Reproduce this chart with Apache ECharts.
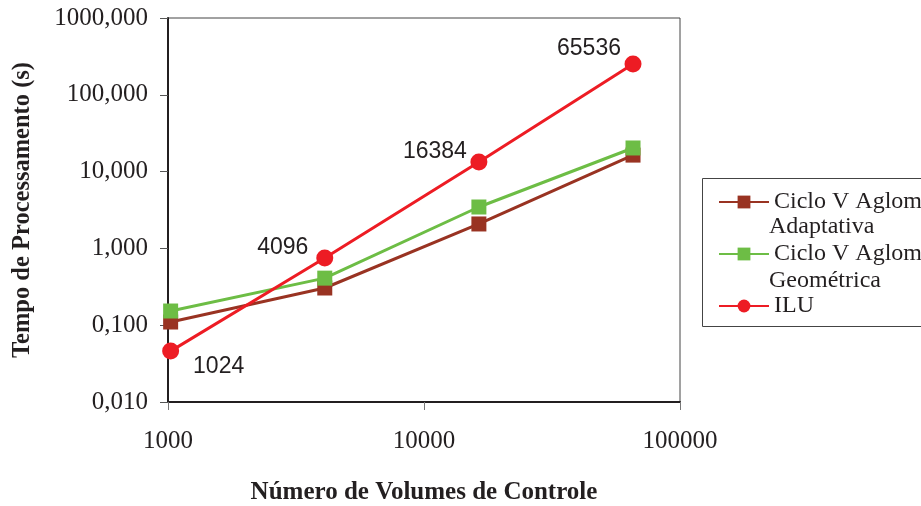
<!DOCTYPE html>
<html>
<head>
<meta charset="utf-8">
<script src="https://cdn.jsdelivr.net/npm/echarts@6/dist/echarts.min.js"></script>
<style>html,body{margin:0;padding:0;background:#fff}#c{width:921px;height:506px}</style>
</head>
<body>
<div id="c"></div>
<script>
const volumes = [1024, 4096, 16384, 65536];
const adaptativa = [0.11, 0.305, 2.08, 16.4];
const geometrica = [0.153, 0.41, 3.46, 20.3];
const ilu = [0.046, 0.75, 13.3, 252];
const seriesNames = ['Ciclo V Aglom. Adaptativa', 'Ciclo V Aglom. Geométrica', 'ILU'];
const xTicks = [1000, 10000, 100000];
const yTicks = [0.01, 0.1, 1, 10, 100, 1000];
const labelOffsets = [[48, 16], [-42, -10], [-44, -10], [-44, -15]];

const chart = echarts.init(document.getElementById('c'));
const serif = 'Liberation Serif';
const sans = 'Liberation Sans';

function pairs(ys) { return volumes.map((v, i) => [v, ys[i]]); }

chart.setOption({
  animation: false,
  backgroundColor: '#fff',
  grid: { left: 168, right: 241, top: 18, bottom: 104, show: true, borderColor: '#444', borderWidth: 1,
    containLabel: false, outerBoundsMode: 'none' },
  xAxis: {
    type: 'log', logBase: 10, min: xTicks[0], max: xTicks[xTicks.length - 1],
    name: 'Número de Volumes de Controle', nameLocation: 'middle', nameGap: 78,
    nameTextStyle: { fontFamily: serif, fontWeight: 'bold', fontSize: 25, color: '#231f20' },
    axisLine: { lineStyle: { color: '#231f20', width: 2 } },
    axisTick: { show: true, length: 8, lineStyle: { color: '#777', width: 1 } },
    axisLabel: { fontFamily: serif, fontSize: 25, color: '#231f20', margin: 27,
      formatter: v => String(Math.round(v)) },
    splitLine: { show: false }, minorTick: { show: false }
  },
  yAxis: {
    type: 'log', logBase: 10, min: yTicks[0], max: yTicks[yTicks.length - 1],
    name: 'Tempo de Processamento (s)', nameLocation: 'middle', nameGap: 133, nameRotate: 90,
    nameTextStyle: { fontFamily: serif, fontWeight: 'bold', fontSize: 24.5, color: '#231f20' },
    axisLine: { lineStyle: { color: '#231f20', width: 2 } },
    axisTick: { show: true, length: 8, lineStyle: { color: '#555', width: 1 } },
    axisLabel: { fontFamily: serif, fontSize: 25, color: '#231f20', margin: 20,
      formatter: v => Number(v).toFixed(3).replace('.', ',') },
    splitLine: { show: false }
  },
  legend: {
    orient: 'vertical', left: 713, top: 185, itemGap: 28,
    itemWidth: 50, itemHeight: 16,
    data: seriesNames,
    formatter: n => n === 'ILU' ? 'ILU' : 'Ciclo V Aglom.',
    textStyle: { fontFamily: serif, fontSize: 24, color: '#231f20', padding: [0, 0, 0, 0] }
  },
  graphic: [
    { type: 'rect', shape: { x: 702.5, y: 178.5, width: 240, height: 148 }, style: { fill: 'none', stroke: '#444', lineWidth: 1 }, z: 100 },
    { type: 'text', left: 769, top: 215, style: { text: 'Adaptativa', font: '24px "Liberation Serif"', fill: '#231f20' }, z: 100 },
    { type: 'text', left: 769, top: 269, style: { text: 'Geométrica', font: '24px "Liberation Serif"', fill: '#231f20' }, z: 100 }
  ],
  series: [
    { name: seriesNames[0], type: 'line', data: pairs(adaptativa), symbol: 'rect', symbolSize: 15,
      itemStyle: { color: '#993322' }, lineStyle: { color: '#993322', width: 3 }, z: 2 },
    { name: seriesNames[1], type: 'line', data: pairs(geometrica), symbol: 'rect', symbolSize: 15,
      itemStyle: { color: '#6dbd45' }, lineStyle: { color: '#6dbd45', width: 3 }, z: 3 },
    { name: seriesNames[2], type: 'line', z: 4,
      data: volumes.map((v, i) => ({ value: [v, ilu[i]], label: { offset: labelOffsets[i] } })),
      symbol: 'circle', symbolSize: 17,
      itemStyle: { color: '#ed1c24' }, lineStyle: { color: '#ed1c24', width: 3 },
      label: { show: true, position: 'inside', fontFamily: sans, fontSize: 23, color: '#231f20',
        formatter: p => String(p.value[0]) } }
  ]
});
</script>
</body>
</html>
